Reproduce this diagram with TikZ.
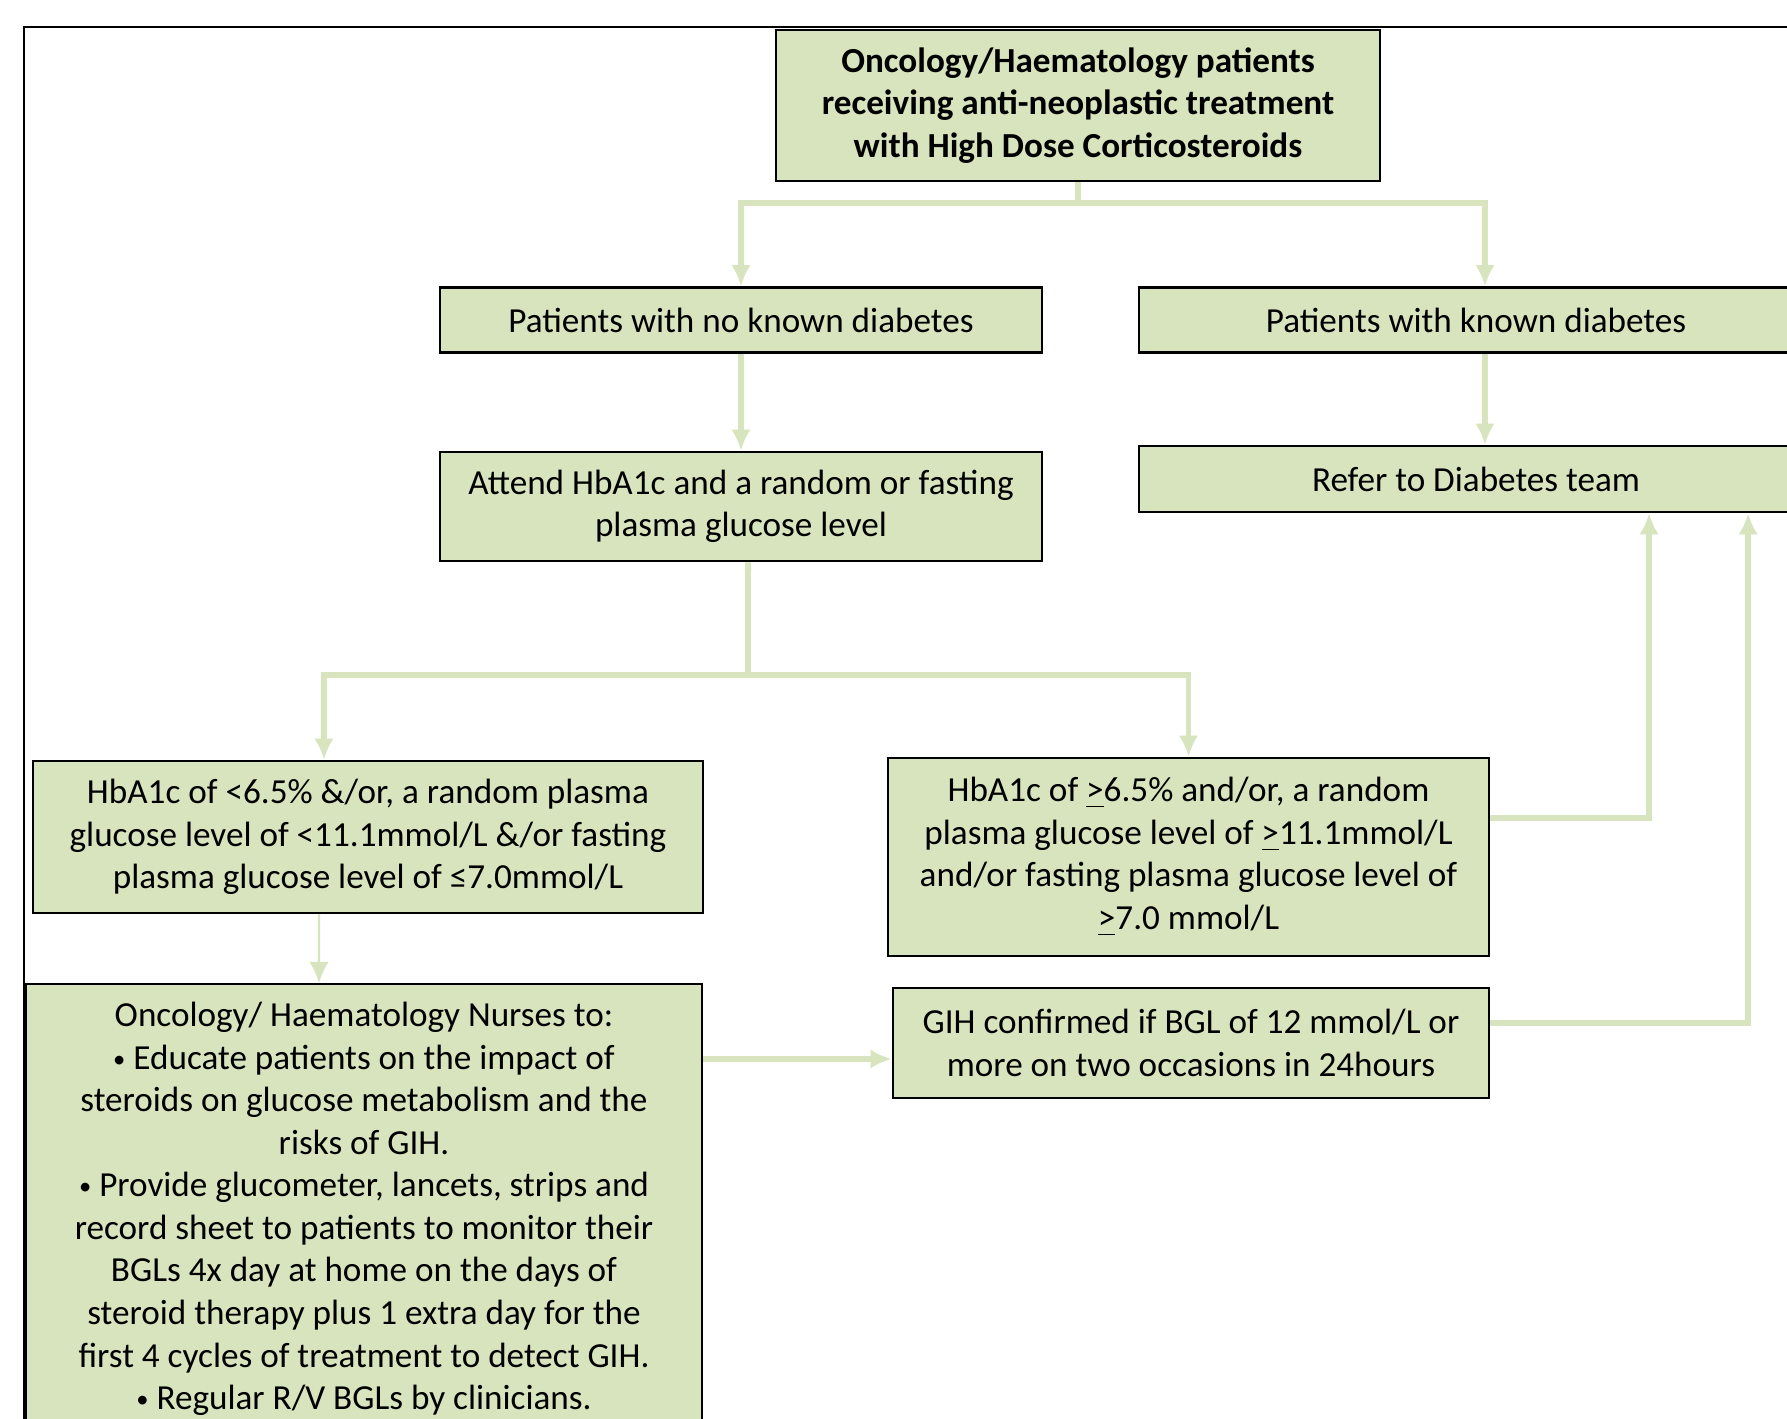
\documentclass[tikz,border=0pt]{standalone}
\usepackage{fontspec}
\setmainfont{Carlito}
\usepackage{tikz}
\usetikzlibrary{arrows.meta}
\definecolor{boxgreen}{HTML}{D7E4BD}
\newcommand{\uge}{\underline{>}}
\newcommand{\bul}{\raisebox{0.6pt}{\fontsize{7}{7}\selectfont •}}

\begin{document}
\begin{tikzpicture}[x=0.01cm, y=-0.01cm, >={Latex[length=6pt,width=5.5pt]},
    box/.style={draw=black, fill=boxgreen, line width=0.7pt, align=center, inner sep=0pt},
    flow/.style={->, draw=boxgreen, line width=1.7pt},
    thinflow/.style={->, draw=boxgreen, line width=0.6pt}]
      \tikzstyle{every node}=[font=\fontsize{10}{12.1}\selectfont]
      %%
  \useasboundingbox (0,0) rectangle (1787,1419);
  \fill[white] (0,0) rectangle (1787,1419);
  \clip (0,0) rectangle (1787,1419);
  \draw[line width=0.6pt] (24,1440) -- (24,27) -- (1800,27);
  %
  \node (n_top) at (1078,105.5) [box, minimum width=6.04cm, minimum height=1.51cm, font=\fontsize{10}{12.1}\selectfont\bfseries] {Oncology/Haematology patients\\receiving anti-neoplastic treatment\\with High Dose Corticosteroids};
  \node (n_nodiab) at (741,320) [box, minimum width=6.02cm, minimum height=0.65cm] {Patients with no known diabetes};
  \node (n_diab) at (1476,320) [box, minimum width=6.74cm, minimum height=0.65cm] {Patients with known diabetes};
  \node (n_attend) at (741,506.5) [box, minimum width=6.02cm, minimum height=1.09cm] {Attend HbA1c and a random or fasting\\plasma glucose level};
  \node (n_refer) at (1476,479) [box, minimum width=6.74cm, minimum height=0.66cm] {Refer to Diabetes team};
  \node (n_low) at (368,837) [box, minimum width=6.70cm, minimum height=1.52cm] {HbA1c of <6.5\% \&/or, a random plasma\\glucose level of <11.1mmol/L \&/or fasting\\plasma glucose level of ≤7.0mmol/L};
  \node (n_high) at (1188.5,857) [box, minimum width=6.01cm, minimum height=1.98cm] {HbA1c of \uge6.5\% and/or, a random\\plasma glucose level of \uge11.1mmol/L\\and/or fasting plasma glucose level of\\\uge7.0 mmol/L};
  \node (n_nurses) at (364,983) [box, anchor=north, minimum width=6.76cm, inner ysep=0.18cm, text depth=1cm] {Oncology/ Haematology Nurses to:\\%
    \bul\ Educate patients on the impact of\\steroids on glucose metabolism and the\\risks of GIH.\\%
    \bul\ Provide glucometer, lancets, strips and\\record sheet to patients to monitor their\\BGLs 4x day at home on the days of\\steroid therapy plus 1 extra day for the\\first 4 cycles of treatment to detect GIH.\\%
    \bul\ Regular R/V BGLs by clinicians.};
  \node (n_gih) at (1191,1043) [box, minimum width=5.96cm, minimum height=1.10cm] {GIH confirmed if BGL of 12 mmol/L or\\more on two occasions in 24hours};
  %
  \coordinate (split_a) at (1078,203);
  \draw [flow] (n_top.south) -- (split_a) -| (n_nodiab.north);
  \draw [flow] (split_a) -| ([xshift=0.09cm]n_diab.north);
  \draw [flow] (n_nodiab.south) -- (n_attend.north);
  \draw [flow] ([xshift=0.09cm]n_diab.south) -- ([xshift=0.09cm]n_refer.north);
  \coordinate (split_b) at (748,675);
  \draw [flow] ([xshift=0.07cm]n_attend.south) -- (split_b) -| ([xshift=-0.44cm]n_low.north);
  \draw [flow] (split_b) -| (n_high.north);
  \draw [thinflow] ([xshift=-0.49cm]n_low.south) -- ([xshift=-0.45cm]n_nurses.north);
  \path (n_gih.west) ++(0,16) coordinate (gih_in);
  \draw [flow] (n_nurses.east |- gih_in) -- (gih_in);
  \path (n_high.east) ++(0,-39) coordinate (high_out);
  \draw [flow] (high_out) -| ([xshift=1.73cm]n_refer.south);
  \path (n_gih.east) ++(0,-20) coordinate (gih_out);
  \draw [flow] (gih_out) -| ([xshift=2.72cm]n_refer.south);
%
\end{tikzpicture}
\end{document}
